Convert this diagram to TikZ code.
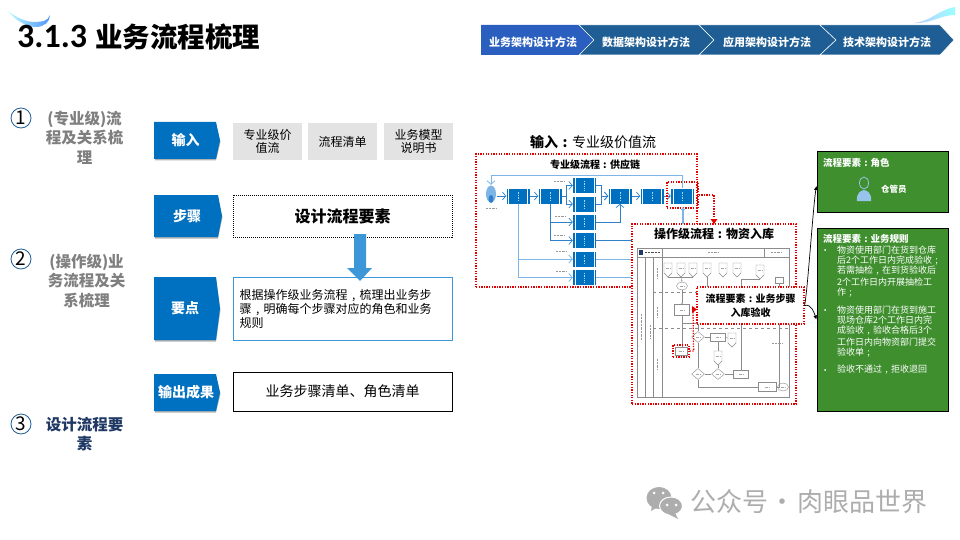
\documentclass[tikz,border=0pt]{standalone}
\usepackage{fontspec}
\setmainfont{Noto Sans CJK SC}
\newfontfamily\titlefont{Carlito}
\newfontfamily\heavyfont{Noto Sans CJK SC Black}
\usetikzlibrary{arrows.meta,shapes.geometric,shapes.symbols}
\definecolor{tagblue}{HTML}{0070C0}
\definecolor{arrowblue}{HTML}{3C96D8}
\definecolor{chevdark}{HTML}{1F5E94}
\definecolor{chevlight}{HTML}{2A5FC0}
\definecolor{rulegreen}{HTML}{3F8F2F}
\definecolor{inkgray}{HTML}{7F7F7F}
\definecolor{navytext}{HTML}{1F3864}
\definecolor{lightline}{HTML}{7DB5E6}
\definecolor{darkline}{HTML}{2F80C8}
\newcommand{\fs}[1]{\fontsize{#1}{#1}\selectfont}
\newcommand{\colonmark}{\makebox[1em][c]{:}}
\newcommand{\commamark}{\makebox[1em][c]{,}}
\newcommand{\semimark}{\makebox[1em][c]{;}}
\tikzset{
  tagtext/.style={text=white,font=\fs{14}\bfseries,inner sep=0},
  chevtext/.style={text=white,font=\fs{11}\bfseries,inner sep=0},
  inputbox/.style={fill=black!11,minimum width=69pt,minimum height=37pt,inner sep=0,align=center,font=\fs{12}\linespread{1.15}\selectfont},
  sidetext/.style={align=center,inner sep=0,text width=84pt,font=\fs{15.5}\linespread{1.25}\selectfont\bfseries},
  numdot/.style={circle,draw=chevdark,line width=.8pt,minimum size=20pt,inner sep=0,font=\fs{19}},
  reddash/.style={draw=red!90!black,line width=1.3pt,dash pattern=on 1.3pt off 1.3pt},
  flowbox/.style={fill=tagblue,minimum width=23pt,minimum height=15pt,inner sep=0,
    path picture={
      \draw[white,line width=.6pt] ([xshift=2pt]path picture bounding box.south west)--([xshift=2pt]path picture bounding box.north west);
      \draw[white,line width=.6pt] ([xshift=-2pt]path picture bounding box.south east)--([xshift=-2pt]path picture bounding box.north east);
      \draw[white!70!tagblue,line width=1pt,dash pattern=on 1pt off .7pt] ([yshift=-3pt]path picture bounding box.north)--([yshift=3pt]path picture bounding box.south);
    }},
  darkflow/.style={draw=darkline,line width=.7pt,->,>={Straight Barb[length=3.5pt,width=8pt]}},
  lightflow/.style={draw=lightline,line width=.8pt,->,>={Straight Barb[length=3.5pt,width=8pt]}},
  tinymark/.style={draw=black!40,line width=.8pt,dash pattern=on 1pt off .4pt},
  chartline/.style={draw=black!45,line width=.4pt},
  chartbox/.style={draw=black!45,fill=white,line width=.4pt,inner sep=0,minimum width=15pt,minimum height=8pt},
  offpage/.style={signal,signal to=south,draw=black!45,fill=white,line width=.4pt,inner sep=0,minimum width=8pt,minimum height=10pt},
  chartgate/.style={diamond,draw=black!45,fill=white,line width=.4pt,inner sep=0,minimum width=13pt,minimum height=11pt},
  chartend/.style={ellipse,draw=black!45,fill=white,line width=.4pt,inner sep=0,minimum width=11pt,minimum height=8pt},
  greenbox/.style={fill=rulegreen,draw=black,line width=1pt,inner sep=0,minimum width=131pt},
  greentext/.style={text=white,inner sep=0,anchor=west,font=\fs{9}},
}
\begin{document}
\begin{tikzpicture}[x=1pt,y=-1pt]
  \useasboundingbox (0,0) rectangle (960,540);
  % 标题
  \shade[left color=blue!5!cyan!25,right color=blue!60!cyan!70] (8,11) .. controls (20,20) and (30,24) .. (44,21) .. controls (47,20) and (49,18) .. (50,15) .. controls (50,22) and (44,27) .. (36,27) .. controls (26,27) and (15,20) .. (8,11) -- cycle;
  \shade[left color=cyan!15!blue!25,right color=cyan!40!white] (913,23) .. controls (930,22) and (938,10) .. (955,7) -- (955,15) .. controls (940,15) and (932,24) .. (913,23) -- cycle;
  \node[anchor=west,inner sep=0] (title) at (17,37) {{\titlefont\fontsize{34}{34}\selectfont\bfseries 3.1.3}\hspace{8pt}{\heavyfont\fs{27.5}业务流程梳理}};
  % 顶部导航
  \fill[chevlight] (481,25)--(579,25)--(594,40)--(579,55)--(481,55)--cycle;
  \fill[chevdark,draw=white,line width=.5pt] (579,25)--(699,25)--(714,40)--(699,55)--(579,55)--(594,40)--cycle;
  \fill[chevdark,draw=white,line width=.5pt] (699,25)--(820,25)--(836,40)--(820,55)--(699,55)--(714,40)--cycle;
  \fill[chevdark,draw=white,line width=.5pt] (820,25)--(940,25)--(954,40)--(940,55)--(820,55)--(836,40)--cycle;
  \node[chevtext] (navbiz) at (533,42) {业务架构设计方法};
  \node[chevtext] (navdata) at (646,42) {数据架构设计方法};
  \node[chevtext] (navapp) at (767,42) {应用架构设计方法};
  \node[chevtext] (navtech) at (887,42) {技术架构设计方法};
  % 左侧步骤
  \node[numdot] (numa) at (21,118) {1};
  \node[numdot] (numb) at (21,259) {2};
  \node[numdot] (numc) at (21,424) {3};
  \node[sidetext,text=inkgray] (sidea) at (84.5,137.5) {(专业级)流\\程及关系梳\\理};
  \node[sidetext,text=inkgray] (sideb) at (86.5,281) {(操作级)业\\务流程及关\\系梳理};
  \node[sidetext,text=navytext] (sidec) at (84.5,434) {设计流程要\\素};
  % 蓝色标签
  \foreach \ya/\yb/\xb in {122/159/220,195/237/222,277/340/220,374/411/220} {
    \fill[black!30] (155,\ya+1.5)--(\xb-4,\ya+1.5)--(\xb+.5,{(\ya+\yb)/2+1.5})--(\xb-4,\yb+1.5)--(155,\yb+1.5)--cycle;
    \fill[tagblue] (154,\ya)--(\xb-4,\ya)--(\xb,{(\ya+\yb)/2})--(\xb-4,\yb)--(154,\yb)--cycle;
  }
  \node[tagtext] (tagin) at (185.5,140.5) {输入};
  \node[tagtext] (tagstep) at (187,216) {步骤};
  \node[tagtext] (tagkey) at (185,308) {要点};
  \node[tagtext] (tagout) at (186,392.5) {输出成果};
  % 输入
  \node[inputbox] (inpa) at (267.5,141.5) {专业级价\\值流};
  \node[inputbox] (inpb) at (342.5,141.5) {流程清单};
  \node[inputbox] (inpc) at (418.5,141.5) {业务模型\\说明书};
  % 中间方框
  \node[draw=black,line width=.8pt,dash pattern=on 1pt off 1pt,minimum width=219pt,minimum height=42pt,inner sep=0,font=\fs{16}\bfseries] (design) at (342.5,216) {设计流程要素};
  \node[draw=arrowblue,line width=.9pt,minimum width=219pt,minimum height=63pt,inner sep=0] (keybox) at (342.5,308.5) {};
  \node[anchor=west,inner sep=0,align=left,font=\fs{12}\linespread{1.17}\selectfont] (keytext) at (239.5,309) {根据操作级业务流程\commamark 梳理出业务步\\骤\commamark 明确每个步骤对应的角色和业务\\规则};
  \node[draw=black,line width=1pt,minimum width=219pt,minimum height=39pt,inner sep=0,font=\fs{14}] (outbox) at (342.5,391.5) {业务步骤清单、角色清单};
  \fill[arrowblue] (354,234)--(366,234)--(366,268)--(372,268)--(360,281)--(347,268)--(354,268)--cycle;
  % 专业级流程
  \node[inner sep=0,font=\fs{14}] (inputhead) at (593,142) {\textbf{输入\colonmark}专业级价值流};
  \node[reddash,fill=white,minimum width=221pt,minimum height=133pt,inner sep=0] (supplybox) at (586.5,220.5) {};
  \node[inner sep=0,font=\fs{10}\bfseries] (supplyname) at (595,164.5) {专业级流程\colonmark 供应链};
  \foreach \name/\x in {sa/518,sb/550,sc/620,sd/652,se/682.5} \node[flowbox] (\name) at (\x,196) {};
  \foreach \name/\y in {ca/185.5,cb/204,cc/222,cd/240.5,ce/259,cf/277.5} \node[flowbox] (\name) at (584.5,\y) {};
  \fill[lightline] (491,194) circle[x radius=5,y radius=8.5];
  \fill[darkline] (491,199) circle[x radius=2.5,y radius=4];
  \node[inner sep=0,minimum width=12pt,minimum height=18pt] (buyer) at (491,194) {};
  \draw[lightflow] (se.north) -- ++(0,-13) -| (buyer.north);
  \draw[darkflow] (buyer.east) ++(0,2) -- (sa.west);
  \draw[darkflow] (sa.east) -- (sb.west);
  \draw[darkflow] (sb.east) -- ++(5,0) |- (ca.west);
  \draw[darkflow] (sb.east) -- ++(5,0) |- (cb.west);
  \draw[darkflow] (ca.east) -- ++(5,0) |- (sc.west);
  \draw[darkflow] (cb.east) -- ++(5,0) |- (sc.west);
  \draw[darkflow] (sc.east) -- (sd.west);
  \draw[darkflow] (sd.east) -- (se.west);
  \draw[darkflow] (sb.south) |- (cc.west);
  \draw[darkflow] (sb.south) |- (cd.west);
  \draw[darkflow] (cc.east) -| (sc.south);
  \draw[lightflow] (sa.south) |- (ce.west);
  \draw[lightflow] (sa.south) |- (cf.west);
  \foreach \x/\y in {559/181,560/216.5,559/235,561/251.5,561/271,491/208} \draw[tinymark] (\x-5,\y) -- (\x+5,\y);
  \coordinate (cdend) at (632,240.5);
  \coordinate (ceend) at (632,259);
  \coordinate (cfend) at (632,277.5);
  \draw[darkline,line width=.7pt] (cd.east) -- (cdend);
  \draw[lightline,line width=.8pt] (ce.east) -- (ceend);
  \draw[lightline,line width=.8pt] (cf.east) -- (cfend);
  \node[reddash,minimum width=31pt,minimum height=26pt,inner sep=0] (sehigh) at (682.5,195) {};
  % 操作级流程
  \node[reddash,fill=white,minimum width=164pt,minimum height=180pt,inner sep=0] (opbox) at (714,314) {};
  \draw[-{Latex[length=3pt,width=5pt]},lightline,line width=2pt] (683,224) -- (683,207);
  \draw[reddash] (sehigh.east) -| (714,218);
  \fill[red!90!black] (710.5,219)--(717.5,219)--(714,224)--cycle;
  \node[inner sep=0,font=\fs{12}\bfseries] (opname) at (714,234) {操作级流程\colonmark 物资入库};
  \draw[chartline,line width=.6pt] (637,248) rectangle (789,397);
  \draw[chartline,line width=.6pt] (637,257) -- (789,257);
  \draw[chartline,line width=.6pt] (645,257) -- (645,397);
  \draw[chartline,line width=.6pt] (653,257) -- (653,397);
  \draw[chartline,line width=.6pt] (662,248) -- (662,397);
  \draw[chartline,line width=.6pt] (764,248) -- (764,257);
  \draw[chartline,dashed] (653,292) -- (789,292);
  \draw[chartline,dashed] (653,328) -- (789,328);
  \fill[navytext] (639,250) rectangle (643,255);
  \draw[tinymark,draw=black!70] (645,252.5) -- (660,252.5);
  \draw[tinymark] (708,252.5) -- (718,252.5);
  \draw[tinymark] (771,252.5) -- (782,252.5);
  \foreach \x/\ya/\yb in {641/314/340,650/325/338,657/268/278,657/307/317,657/359/369} \draw[tinymark] (\x,\ya) -- (\x,\yb);
  \foreach \name/\x in {oa/668,ob/681,oc/693,od/707,oe/723,of/737} \node[offpage] (\name) at (\x,268) {};
  \node[offpage] (og) at (760,270) {};
  \node[chartend] (startoval) at (682,286) {};
  \node[chartbox,minimum height=11pt] (chka) at (682,310) {};
  \node[chartgate] (gatea) at (698,337) {};
  \node[chartbox] (chkb) at (718,337) {};
  \node[offpage] (oh) at (732,338) {};
  \node[chartbox,minimum width=12pt] (stepcell) at (681,351) {};
  \node[offpage] (oi) at (718,356) {};
  \node[chartgate] (gateb) at (698,374) {};
  \node[chartgate] (gatec) at (718,374) {};
  \node[chartbox] (chkc) at (741,374) {};
  \node[chartbox,minimum width=18pt,minimum height=9pt] (chkd) at (767,387) {};
  \node[chartend] (endoval) at (783,387) {};
  \node[chartbox,minimum width=8pt,minimum height=6pt] (chke) at (779,280) {};
  \draw[chartline] (oa.south) |- (ob.south);
  \draw[chartline] (oc.south) |- (ob.south);
  \draw[chartline,->,>={Stealth[length=1.5pt,width=1.5pt]}] (ob.south) -- (startoval.north);
  \draw[chartline,->,>={Stealth[length=1.5pt,width=1.5pt]}] (startoval.south) -- (chka.north);
  \draw[chartline] (chka.south) -- ++(0,7) -| (gatea.north);
  \draw[chartline] (chka.south) |- (stepcell.north);
  \draw[chartline] (gatea.east) -- (chkb.west);
  \draw[chartline] (chkb.east) -- (oh.west);
  \draw[chartline] (chkb.south) -- (oi.north);
  \draw[chartline] (gatea.south) -- (gateb.north);
  \draw[chartline] (gateb.east) -- (gatec.west);
  \draw[chartline] (gatec.east) -- (chkc.west);
  \draw[chartline] (oi.south) -- (gatec.north);
  \draw[chartline] (gateb.south) |- (chkd.west);
  \draw[chartline] (chkd.east) -- (endoval.west);
  \draw[chartline] (chkc.north) |- (og.south);
  \draw[chartline] (chke.south) -- ++(0,50) |- (chkd.east);
  \draw[chartline] (od.south) -- ++(0,12);
  \foreach \name in {oa,ob,oc,od,oe,of,og,oh,oi,startoval,chka,gatea,chkb,stepcell,gateb,gatec,chkc,chkd,endoval} \draw[tinymark,line width=.6pt,black!35] ([xshift=-2.5pt]\name.center) -- ([xshift=2.5pt]\name.center);
  \draw[tinymark] (772,343) -- (782,343);
  \node[reddash,minimum width=16pt,minimum height=12pt,inner sep=0] (stepred) at (681,351) {};
  % 流程要素
  \node[reddash,fill=white,minimum width=107pt,minimum height=37pt,inner sep=0,align=center,font=\fs{10}\bfseries\linespread{1.4}\selectfont] (elembox) at (750.5,305.5) {流程要素\colonmark 业务步骤\\入库验收};
  \draw[reddash] (stepred.east) -- ++(4,0) -- (693,310);
  \fill[red!90!black] (692,306)--(697,309.5)--(692,313)--cycle;
  % 绿色方框
  \node[greenbox,minimum height=60pt] (rolebox) at (882.5,182) {};
  \node[greenbox,minimum height=183pt] (rulebox) at (882.5,319.5) {};
  \draw[-{Latex[length=4pt,width=4pt]},black,line width=.7pt] (elembox.east) to[out=80,in=-100,looseness=.4] ([yshift=-4pt]rolebox.west);
  \draw[-{Latex[length=4pt,width=4pt]},black,line width=.7pt] (elembox.east) to[out=15,in=110] (rulebox.west);
  \node[greentext,font=\fs{9.5}\bfseries] (rolename) at (823,163) {流程要素\colonmark 角色};
  \fill[lightline!80!white] (864,190) .. controls (855,192) and (857,201) .. (857,201) -- (871,201) .. controls (871,201) and (873,192) .. (864,190) -- cycle;
  \draw[lightline!80!white,line width=.8pt] (864,183) circle[x radius=4.5,y radius=6];
  \node[greentext,font=\fs{8.5}\bfseries] (keeper) at (881,189) {仓管员};
  \node[greentext,font=\fs{9.5}\bfseries] (rulename) at (823,239) {流程要素\colonmark 业务规则};
  \foreach \y/\txt in {250/物资使用部门在货到仓库,260.5/后2个工作日内完成验收\semimark,271/若需抽检\commamark 在到货验收后,282/2个工作日内开展抽检工,293/作\semimark,310/物资使用部门在货到施工,320.5/现场仓库2个工作日内完,331/成验收\commamark 验收合格后3个,342/工作日内向物资部门提交,352.5/验收单\semimark,370/验收不通过\commamark 拒收退回} \node[greentext] at (837,\y) {\txt};
  \foreach \y in {250,310,370} \fill[white] (825,\y) circle(1);
  % 水印
  \fill[black!32] (659,498) circle[x radius=12.5,y radius=11];
  \fill[black!32] (652,505) -- (651,511) -- (658,507) -- cycle;
  \fill[black!32,draw=white,line width=1pt] (671,506) circle[x radius=11.5,y radius=9];
  \fill[black!32] (675,513) -- (678,519) -- (668,514) -- cycle;
  \foreach \x/\y in {654/493,663/493,667/505,676/505} \fill[white] (\x,\y) circle(1.5);
  \node[inner sep=0,text=black!32,font=\fs{26}] (mark) at (809,502) {公众号\makebox[30pt][c]{·}肉眼品世界};
\end{tikzpicture}
\end{document}
